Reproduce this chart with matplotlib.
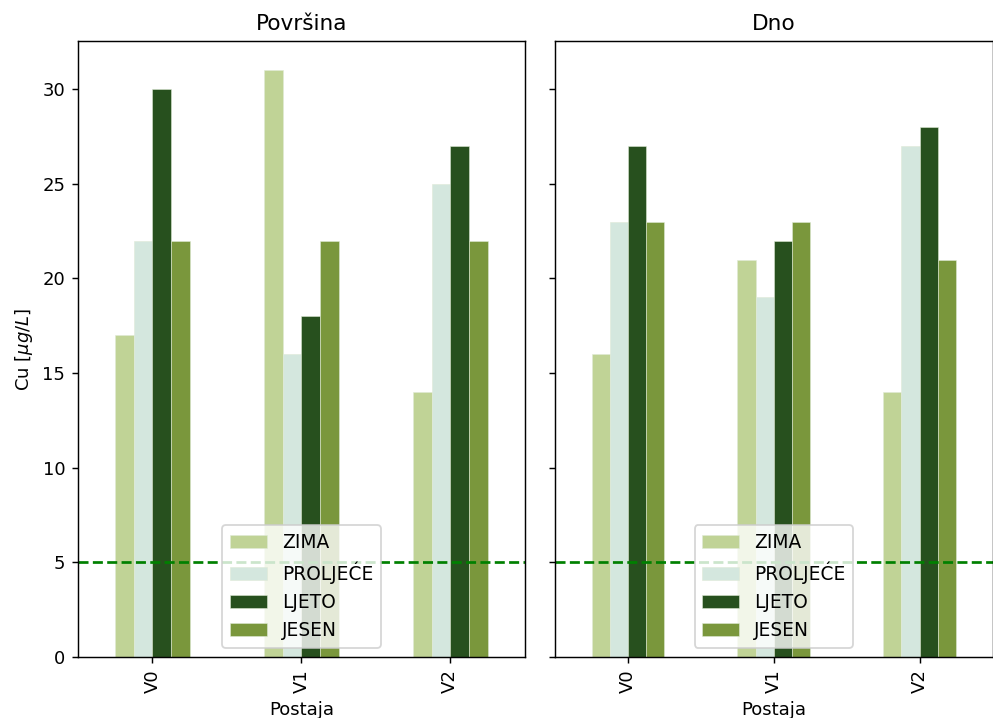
import numpy as np
import matplotlib.pyplot as plt

stations = ['V0', 'V1', 'V2']
seasons = ['ZIMA', 'PROLJEĆE', 'LJETO', 'JESEN']
colors = ['#c0d396', '#d4e7de', '#27501e', '#7a973c']

# Cu values per season, one entry per station
surface = {
    'ZIMA': [17, 31, 14],
    'PROLJEĆE': [22, 16, 25],
    'LJETO': [30, 18, 27],
    'JESEN': [22, 22, 22],
}
bottom = {
    'ZIMA': [16, 21, 14],
    'PROLJEĆE': [23, 19, 27],
    'LJETO': [27, 22, 28],
    'JESEN': [23, 23, 21],
}
limit = 5

dpi = 130
fig = plt.figure(figsize=(993 / dpi, 718 / dpi), dpi=dpi)
ax1 = fig.add_axes([0.0785, 0.085, 0.450, 0.858])
ax2 = fig.add_axes([0.559, 0.085, 0.4405, 0.858], sharey=ax1)

x = np.arange(len(stations))
w = 0.125

def draw(ax, data, title):
    for i, s in enumerate(seasons):
        ax.bar(x - 0.25 + w / 2 + i * w, data[s], width=w, color=colors[i],
               label=s, edgecolor='#dfead6', linewidth=0.3)
    ax.axhline(limit, color='green', linestyle='--', linewidth=1.5)
    ax.set_xticks(x)
    ax.set_xticklabels(stations, rotation=90)
    ax.set_xlim(-0.5, 2.5)
    ax.set_xlabel('Postaja')
    ax.set_title(title)
    ax.legend(loc='lower center', fontsize=10.3)

draw(ax1, surface, 'Površina')
draw(ax2, bottom, 'Dno')
ax1.set_ylim(0, 32.55)
ax1.set_ylabel(r'Cu [$\mu g/L$]')
plt.setp(ax2.get_yticklabels(), visible=False)

fig.savefig('out.png', dpi=dpi)
